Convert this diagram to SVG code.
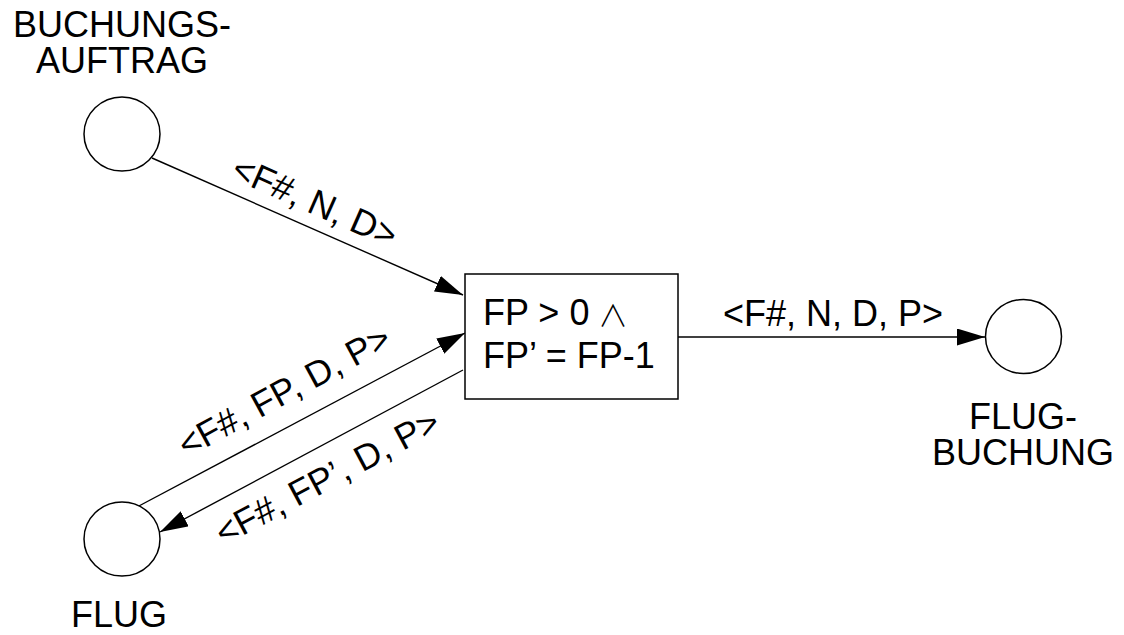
<svg xmlns="http://www.w3.org/2000/svg" width="1124" height="635" viewBox="0 0 1124 635">
<style>
text{font-family:"Liberation Sans",Arial,sans-serif;font-size:36px;fill:#000}
.place{fill:#fff;stroke:#000;stroke-width:1.5}
.trans{fill:#fff;stroke:#000;stroke-width:1.5}
.arc{stroke:#000;stroke-width:1.4;fill:none}
</style>
<defs>
<marker id="arr" markerUnits="userSpaceOnUse" markerWidth="30" markerHeight="18" refX="28" refY="8.5" orient="auto">
<path d="M0,0 L28,8.5 L0,17 z" fill="#000"/>
</marker>
</defs>
<rect width="1124" height="635" fill="#fff"/>
<g id="connectors">
<line class="arc" x1="152" y1="158" x2="463" y2="295" marker-end="url(#arr)"/>
<line class="arc" x1="137" y1="507" x2="465" y2="333" marker-end="url(#arr)"/>
<line class="arc" x1="463" y1="370" x2="160" y2="532" marker-end="url(#arr)"/>
<line class="arc" x1="678" y1="337" x2="985" y2="337" marker-end="url(#arr)"/>
<text text-anchor="middle" transform="translate(310,213) rotate(23.8)">&lt;F#, N, D&gt;</text>
<text text-anchor="middle" transform="translate(290,402) rotate(-28.5)">&lt;F#, FP, D, P&gt;</text>
<text text-anchor="middle" transform="translate(333,488) rotate(-28)">&lt;F#, FP’, D, P&gt;</text>
<text x="833" y="326" text-anchor="middle">&lt;F#, N, D, P&gt;</text>
</g>
<g id="buchungsauftrag">
<ellipse class="place" cx="122" cy="134" rx="38" ry="37"/>
<text x="122" y="37" text-anchor="middle">BUCHUNGS-</text>
<text x="122" y="73" text-anchor="middle">AUFTRAG</text>
</g>
<g id="transition">
<rect class="trans" x="465" y="274" width="213" height="125"/>
<text x="483" y="325">FP &gt; 0</text>
<text x="598" y="326" style="font-family:'Noto Sans CJK JP',sans-serif;font-size:30px;font-weight:300">∧</text>
<text x="483" y="368">FP’ = FP-1</text>
</g>
<g id="flugbuchung">
<ellipse class="place" cx="1023.5" cy="336.5" rx="38" ry="37"/>
<text x="1023" y="429" text-anchor="middle">FLUG-</text>
<text x="1023" y="465" text-anchor="middle">BUCHUNG</text>
</g>
<g id="flug">
<ellipse class="place" cx="122" cy="539" rx="38" ry="37"/>
<text x="119" y="627" text-anchor="middle">FLUG</text>
</g>
</svg>
